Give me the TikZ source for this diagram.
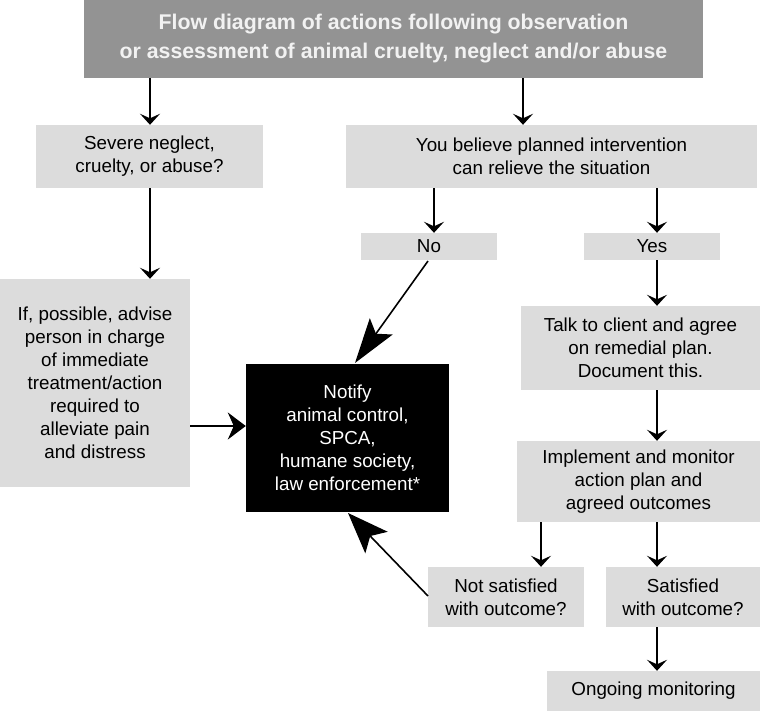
\documentclass[tikz,border=0pt]{standalone}
\usepackage{fontspec}
\setmainfont{Liberation Sans}
\usetikzlibrary{arrows.meta}
\definecolor{titlegray}{HTML}{939393}
\definecolor{boxgray}{HTML}{DCDCDC}
\definecolor{titletext}{HTML}{F2F2F2}
\begin{document}
\begin{tikzpicture}[x=1pt,y=-1pt,
  box/.style={rectangle, fill=boxgray, inner sep=0pt, align=center, text=black,
    font=\fontsize{18.8}{23}\selectfont},
  titlebox/.style={rectangle, fill=titlegray, inner sep=0pt, align=center, text=titletext,
    font=\fontsize{21.3}{29}\selectfont\bfseries},
  blackbox/.style={rectangle, fill=black, inner sep=0pt, align=center, text=white,
    font=\fontsize{18.8}{23}\selectfont},
  conn/.style={line width=1.6pt, draw=black},
  arrS/.style={conn, -{Stealth[length=11pt,width=20pt,inset=4.5pt]}},
  arrH/.style={conn, -{Stealth[length=18pt,width=27pt,inset=6pt]}},
  arrD/.style={conn, -{Stealth[length=45pt,width=28pt,inset=9pt]}},
  arrE/.style={conn, -{Stealth[length=41pt,width=31pt,inset=9pt]}}
]
\useasboundingbox (0,0) rectangle (769,711);
\fill[white] (0,0) rectangle (769,711);

\node[titlebox, minimum width=619pt, minimum height=78pt] (title) at (393.5,39)
  {Flow diagram of actions following observation\\or assessment of animal cruelty, neglect and/or abuse};

\node[box, minimum width=227pt, minimum height=63pt] (sev) at (149.5,156.5)
  {Severe neglect,\\cruelty, or abuse?};
\node[box, minimum width=411pt, minimum height=63pt] (bel) at (551.5,156.5)
  {You believe planned intervention\\can relieve the situation};
\node[box, minimum width=190pt, minimum height=208pt] (left) at (95,383)
  {If, possible, advise\\person in charge\\of immediate\\treatment/action\\required to\\alleviate pain\\and distress};
\node[box, minimum width=136pt, minimum height=27pt] (no) at (429,246.5) {No};
\node[box, minimum width=136pt, minimum height=27pt] (yes) at (652,246.5) {Yes};
\node[box, minimum width=239pt, minimum height=84pt] (talk) at (640.5,348)
  {Talk to client and agree\\on remedial plan.\\Document this.};
\node[box, minimum width=243pt, minimum height=81pt] (impl) at (638.5,481.5)
  {Implement and monitor\\action plan and\\agreed outcomes};
\node[box, minimum width=156pt, minimum height=60pt] (notsat) at (506,597)
  {Not satisfied\\with outcome?};
\node[box, minimum width=154pt, minimum height=60pt] (sat) at (683,597)
  {Satisfied\\with outcome?};
\node[box, minimum width=213pt, minimum height=40pt] (ong) at (653.5,691)
  {Ongoing monitoring};
\node[blackbox, minimum width=203pt, minimum height=148pt] (notify) at (347.5,438)
  {Notify\\animal control,\\SPCA,\\humane society,\\law enforcement*};

\coordinate (xa) at (150,0);
\coordinate (xb) at (523,0);
\coordinate (xc) at (434,0);
\coordinate (xd) at (657,0);
\coordinate (xe) at (541,0);
\coordinate (yh) at (0,426);
\coordinate (noS) at (428,261);
\coordinate (noT) at (355,363);
\coordinate (nsS) at (428,596);
\coordinate (nsT) at (348,513);

\draw[arrS] (title.south -| xa) -- (sev.north -| xa);
\draw[arrS] (title.south -| xb) -- (bel.north -| xb);
\draw[arrS] (sev.south -| xa) -- (left.north -| xa);
\draw[arrS] (bel.south -| xc) -- (no.north -| xc);
\draw[arrS] (bel.south -| xd) -- (yes.north -| xd);
\draw[arrS] (yes.south -| xd) -- (talk.north -| xd);
\draw[arrS] (talk.south -| xd) -- (impl.north -| xd);
\draw[arrS] (impl.south -| xe) -- (notsat.north -| xe);
\draw[arrS] (impl.south -| xd) -- (sat.north -| xd);
\draw[arrS] (sat.south -| xd) -- (ong.north -| xd);
\draw[arrH] (left.east |- yh) -- (notify.west |- yh);
\draw[arrD] (noS) -- (noT);
\draw[arrE] (nsS) -- (nsT);
\end{tikzpicture}
\end{document}
